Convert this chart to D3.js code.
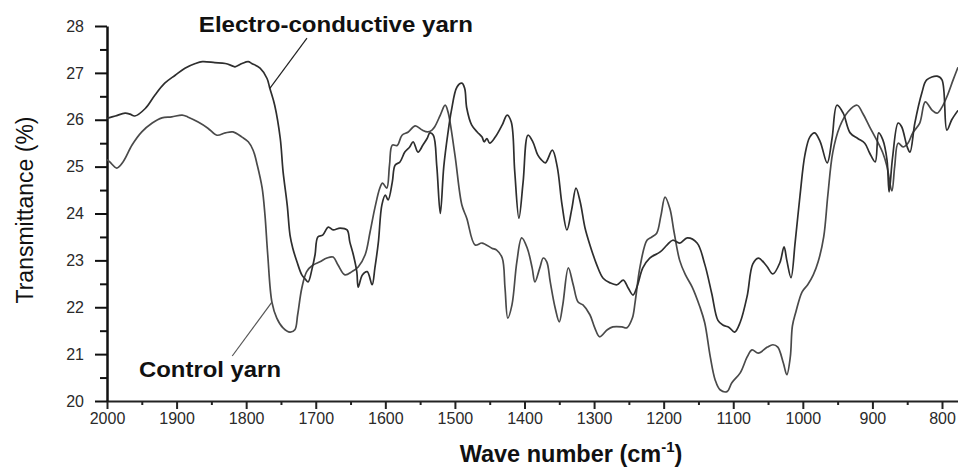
<!DOCTYPE html>
<html>
<head>
<meta charset="utf-8">
<script src="https://cdn.jsdelivr.net/npm/d3@7"></script>
<style>
  html, body { margin: 0; padding: 0; background: #fff; }
  svg { display: block; font-family: "Liberation Sans", Arial, Helvetica, sans-serif; }
</style>
</head>
<body>
<svg id="chart" width="958" height="467"></svg>
<script>
// ---- data (wave number cm^-1, transmittance %) ----
const electroData = [
[2000,26.03],[1988,26.08],[1974,26.14],[1967,26.12],[1960,26.08],[1945,26.24],[1931,26.53],[1917,26.78],[1902,26.95],[1888,27.1],[1873,27.2],[1863,27.24],[1845,27.22],[1830,27.2],[1820,27.15],[1816,27.13],[1806,27.2],[1797,27.24],[1792,27.2],[1780,27.1],[1770,26.88],[1766,26.67],[1759,26.31],[1751,25.6],[1747,24.9],[1741,24.18],[1737,23.54],[1733,23.26],[1727,22.97],[1720,22.69],[1715,22.6],[1711,22.54],[1705,22.84],[1701,23.12],[1697,23.5],[1690,23.54],[1682,23.71],[1675,23.65],[1665,23.69],[1655,23.65],[1651,23.39],[1646,23.12],[1641,22.76],[1639,22.43],[1633,22.69],[1626,22.76],[1619,22.48],[1615,22.84],[1610,23.39],[1605,24.18],[1600,24.39],[1596,24.29],[1590,24.67],[1586,25.03],[1579,25.1],[1572,25.31],[1565,25.42],[1560,25.53],[1553,25.31],[1546,25.46],[1540,25.6],[1536,25.72],[1531,25.67],[1526,25.0],[1521,24.0],[1516,25.0],[1510,25.72],[1505,26.2],[1497,26.7],[1490,26.78],[1486,26.67],[1483,26.25],[1476,25.89],[1468,25.74],[1461,25.63],[1458,25.53],[1454,25.6],[1450,25.5],[1442,25.63],[1432,25.89],[1425,26.1],[1419,25.95],[1414,24.89],[1408,23.9],[1402,24.67],[1395,25.67],[1388,25.53],[1381,25.25],[1376,25.15],[1370,25.08],[1360,25.35],[1353,25.0],[1346,24.18],[1339,23.65],[1332,24.1],[1326,24.54],[1320,24.25],[1313,23.69],[1306,23.33],[1296,22.9],[1287,22.62],[1277,22.52],[1267,22.48],[1258,22.58],[1251,22.41],[1244,22.26],[1238,22.45],[1230,22.84],[1220,23.05],[1205,23.18],[1195,23.33],[1187,23.43],[1177,23.37],[1166,23.48],[1152,23.37],[1141,22.92],[1131,22.3],[1122,21.72],[1115,21.62],[1106,21.57],[1098,21.47],[1090,21.68],[1080,22.24],[1072,22.92],[1064,23.05],[1052,22.88],[1043,22.71],[1033,22.95],[1027,23.29],[1023,23.0],[1017,22.63],[1011,23.39],[1004,24.39],[997,25.25],[990,25.63],[983,25.72],[975,25.53],[965,25.08],[958,25.6],[951,26.31],[942,26.14],[932,25.72],[921,25.6],[911,25.5],[904,25.29],[896,25.1],[891,25.72],[885,25.57],[879,25.14],[876,24.46],[871,25.2],[863,25.93],[858,25.85],[850,25.42],[846,25.31],[839,25.93],[829,26.57],[822,26.85],[807,26.93],[800,26.85],[793,25.78],[786,26.0],[777,26.2]
];
const controlData = [
[2000,25.15],[1996,25.1],[1986,24.97],[1977,25.1],[1964,25.46],[1950,25.74],[1935,25.93],[1921,26.04],[1907,26.06],[1892,26.1],[1884,26.06],[1869,25.95],[1855,25.82],[1842,25.67],[1830,25.72],[1819,25.74],[1806,25.63],[1797,25.53],[1790,25.35],[1784,25.03],[1777,24.54],[1773,23.97],[1769,23.12],[1763,22.11],[1756,21.77],[1747,21.56],[1737,21.47],[1730,21.52],[1726,21.84],[1720,22.41],[1713,22.76],[1704,22.9],[1694,22.97],[1684,23.05],[1675,23.07],[1668,22.9],[1658,22.69],[1648,22.76],[1639,22.86],[1629,23.12],[1622,23.6],[1615,24.12],[1608,24.54],[1604,24.65],[1598,24.54],[1594,25.03],[1590,25.46],[1583,25.45],[1576,25.67],[1567,25.74],[1557,25.87],[1547,25.78],[1539,25.74],[1533,25.78],[1529,25.85],[1521,26.1],[1514,26.31],[1510,26.17],[1500,25.25],[1490,24.18],[1483,23.9],[1471,23.33],[1461,23.37],[1447,23.26],[1440,23.22],[1432,23.05],[1428,22.41],[1424,21.77],[1418,22.05],[1411,22.97],[1404,23.48],[1396,23.26],[1389,22.84],[1385,22.54],[1378,22.84],[1373,23.05],[1368,22.97],[1363,22.54],[1356,21.99],[1350,21.69],[1345,22.05],[1337,22.84],[1330,22.48],[1323,22.11],[1316,22.05],[1306,21.84],[1299,21.56],[1292,21.37],[1281,21.52],[1273,21.58],[1260,21.58],[1253,21.56],[1245,21.77],[1241,22.11],[1234,22.86],[1224,23.43],[1217,23.5],[1210,23.58],[1204,23.95],[1198,24.35],[1191,24.1],[1185,23.6],[1177,23.0],[1169,22.7],[1159,22.43],[1148,22.01],[1141,21.67],[1133,20.94],[1126,20.45],[1119,20.24],[1109,20.2],[1102,20.39],[1090,20.6],[1080,20.94],[1073,21.09],[1064,21.02],[1051,21.15],[1043,21.2],[1036,21.15],[1028,20.81],[1023,20.56],[1018,20.94],[1015,21.6],[1010,21.9],[1001,22.33],[993,22.48],[985,22.69],[978,22.97],[970,23.5],[964,24.4],[957,25.3],[947,25.85],[935,26.17],[922,26.31],[914,26.14],[904,25.85],[894,25.57],[885,25.29],[879,25.0],[872,24.48],[868,25.0],[863,25.5],[856,25.42],[849,25.5],[842,25.72],[832,25.93],[824,26.38],[814,26.2],[807,26.14],[800,26.27],[793,26.49],[784,26.85],[777,27.12]
];
const xTicks = [2000,1900,1800,1700,1600,1500,1400,1300,1200,1100,1000,900,800];
const xMinorTicks = [1950,1850,1750,1650,1550,1450,1350,1250,1150,1050,950,850];
const yTicks = [20,21,22,23,24,25,26,27,28];
const yMinorTicks = [20.5,21.5,22.5,23.5,24.5,25.5,26.5,27.5];
const labels = {
  electro: "Electro-conductive yarn",
  control: "Control yarn",
  yTitle: "Transmittance (%)",
  xTitle: "Wave number (cm"
};

// ---- scales ----
const svg = d3.select("#chart");
const x = d3.scaleLinear().domain([2000, 777]).range([107, 958]);
const y = d3.scaleLinear().domain([20, 28]).range([401, 26]);

// ---- axes ----
const gxMinor = svg.append("g").attr("transform", "translate(0,401)")
  .call(d3.axisBottom(x).tickValues(xMinorTicks).tickSize(4).tickSizeOuter(0).tickFormat(""));
gxMinor.select(".domain").remove();
const gx = svg.append("g").attr("transform", "translate(0,401)")
  .call(d3.axisBottom(x).tickValues(xTicks).tickSize(8).tickSizeOuter(0).tickPadding(4).tickFormat(d3.format("d")));
gx.select(".domain").attr("stroke", "#222").attr("stroke-width", 2);
gx.selectAll(".tick line").attr("stroke", "#222").attr("stroke-width", 2);
gxMinor.selectAll(".tick line").attr("stroke", "#222").attr("stroke-width", 2);
gx.selectAll(".tick text").attr("font-size", 16).attr("fill", "#2a2a2a")
  .attr("font-family", "'Liberation Sans', Arial, sans-serif");

const gyMinor = svg.append("g").attr("transform", "translate(107,0)")
  .call(d3.axisLeft(y).tickValues(yMinorTicks).tickSize(7).tickSizeOuter(0).tickFormat(""));
gyMinor.select(".domain").remove();
const gy = svg.append("g").attr("transform", "translate(107,0)")
  .call(d3.axisLeft(y).tickValues(yTicks).tickSize(12).tickSizeOuter(0).tickPadding(11).tickFormat(d3.format("d")));
gy.select(".domain").attr("stroke", "#111").attr("stroke-width", 2.5);
gy.selectAll(".tick line").attr("stroke", "#111").attr("stroke-width", 2);
gyMinor.selectAll(".tick line").attr("stroke", "#111").attr("stroke-width", 2);
gy.selectAll(".tick text").attr("font-size", 16).attr("fill", "#2a2a2a")
  .attr("font-family", "'Liberation Sans', Arial, sans-serif");

// ---- curves ----
const line = d3.line().x(d => x(d[0])).y(d => y(d[1])).curve(d3.curveCatmullRom.alpha(0.5));
svg.append("path").datum(controlData).attr("d", line)
  .attr("fill", "none").attr("stroke", "#4a4a4a").attr("stroke-width", 1.7).attr("stroke-linejoin", "round");
svg.append("path").datum(electroData).attr("d", line)
  .attr("fill", "none").attr("stroke", "#2e2e2e").attr("stroke-width", 1.7).attr("stroke-linejoin", "round");

// ---- annotations ----
svg.append("line")
  .attr("x1", x(1712.6)).attr("y1", y(27.74)).attr("x2", x(1766)).attr("y2", y(26.67))
  .attr("stroke", "#222").attr("stroke-width", 1.2);
svg.append("line")
  .attr("x1", x(1820)).attr("y1", y(20.96)).attr("x2", x(1763)).attr("y2", y(22.11))
  .attr("stroke", "#555").attr("stroke-width", 1.2);

svg.append("text").attr("x", x(1868)).attr("y", y(27.87))
  .attr("font-size", 22).attr("font-weight", "bold").attr("fill", "#111")
  .attr("textLength", 274).attr("lengthAdjust", "spacingAndGlyphs")
  .text(labels.electro);
svg.append("text").attr("x", x(1954)).attr("y", y(20.51))
  .attr("font-size", 22).attr("font-weight", "bold").attr("fill", "#111")
  .attr("textLength", 142).attr("lengthAdjust", "spacingAndGlyphs")
  .text(labels.control);

// ---- axis titles ----
svg.append("text")
  .attr("transform", "translate(33,210) rotate(-90)")
  .attr("text-anchor", "middle").attr("font-size", 23).attr("fill", "#111")
  .text(labels.yTitle);

const xt = svg.append("text").attr("x", 571).attr("y", 462)
  .attr("text-anchor", "middle").attr("font-size", 23.5).attr("font-weight", "bold").attr("fill", "#111");
xt.append("tspan").text(labels.xTitle);
xt.append("tspan").attr("font-size", 15).attr("dy", -10).text("-1");
xt.append("tspan").attr("dy", 10).text(")");
</script>
</body>
</html>
